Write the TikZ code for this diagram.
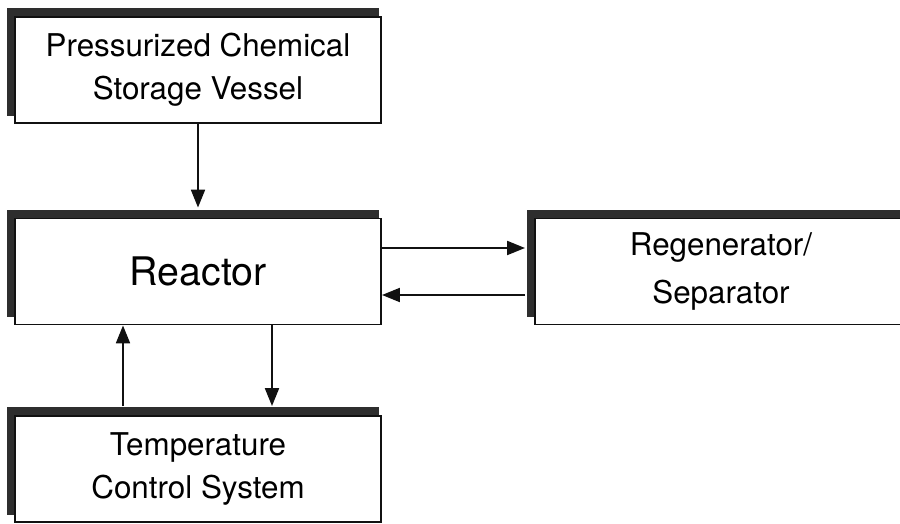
\documentclass[tikz,border=0pt]{standalone}
\usepackage{fontspec}
\setmainfont{TeX Gyre Heros}
\usepackage{xcolor}
\definecolor{ink}{HTML}{111111}
\definecolor{shade}{HTML}{2E2E2E}
\usepackage{tikz}
\usetikzlibrary{arrows.meta,calc,shadows}
\tikzset{
  every picture/.style={line width=1.1pt},
  unit/.style={draw=ink, fill=white, align=center, inner sep=0pt,
    minimum width=#1, minimum height=2.65cm,
    font=\fontsize{22.3}{30.6}\selectfont,
    drop shadow={shadow xshift=-0.125cm, shadow yshift=0.2cm, shadow scale=1.016, fill=shade, opacity=1}},
  unit/.default=9.15cm,
  flow/.style={-{Triangle[length=0.45cm, width=0.34cm]}, draw=ink, line width=2.1pt},
}

\begin{document}
\begin{tikzpicture}[x=0.025cm, y=-0.025cm]
  \useasboundingbox (0,0) rectangle (900,524);
  \node[unit] (vessel) at (198,70) {Pressurized Chemical\\Storage Vessel};
  \node[unit, font=\fontsize{28}{34}\selectfont] (reactor) at (198,271.5) {Reactor};
  \node[unit=9.3cm, font=\fontsize{22.3}{34}\selectfont] (regen) at (721,271.5) {Regenerator/\\Separator};
  \node[unit] (tcs) at (198,469) {Temperature\\Control System};
  % feed, recycle loop, temperature loop
  \draw[flow] (vessel.south) -- ($(reactor.north)+(0,-10)$);
  \draw[flow] ($(reactor.east)+(0,-23.5)$) -- ($(regen.west)+(-9,-23.5)$);
  \draw[flow] ($(regen.west)+(-9,23.5)$) -- ($(reactor.east)+(0,23.5)$);
  \draw[flow] ($(tcs.north)+(-75,-9)$) -- ($(reactor.south)+(-75,0)$);
  \draw[flow] ($(reactor.south)+(74,0)$) -- ($(tcs.north)+(74,-9)$);
\end{tikzpicture}
\end{document}
